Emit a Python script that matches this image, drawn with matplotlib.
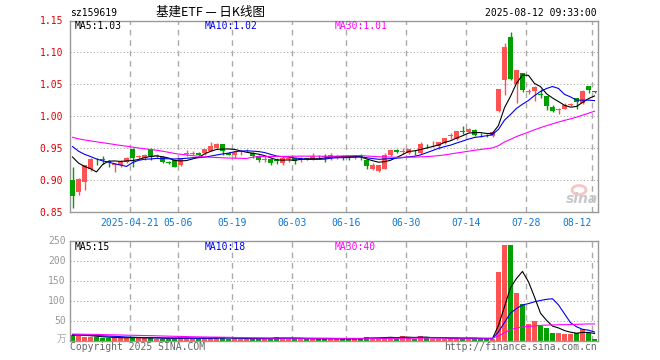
import numpy as np
import pandas as pd
import matplotlib
matplotlib.use('Agg')
import matplotlib.pyplot as plt
from matplotlib.patches import Ellipse

# 日K数据 2025-04-07 ~ 2025-08-12 (88个交易日)
opens = [0.900, 0.882, 0.897, 0.917, 0.932, 0.933, 0.930, 0.924, 0.924, 0.928,
         0.949, 0.936, 0.934, 0.948, 0.938, 0.936, 0.928, 0.931, 0.923, 0.941,
         0.941, 0.943, 0.942, 0.946, 0.950, 0.957, 0.943, 0.940, 0.942, 0.945,
         0.943, 0.938, 0.932, 0.933, 0.931, 0.926, 0.933, 0.934, 0.932, 0.934,
         0.933, 0.935, 0.937, 0.934, 0.934, 0.938, 0.936, 0.935, 0.937, 0.932,
         0.918, 0.915, 0.918, 0.939, 0.947, 0.944, 0.942, 0.946, 0.942, 0.957,
         0.956, 0.954, 0.958, 0.969, 0.964, 0.976, 0.976, 0.979, 0.971, 0.971,
         0.969, 1.009, 1.057, 1.124, 1.050, 1.068, 1.038, 1.040, 1.035, 1.031,
         1.015, 1.010, 1.012, 1.018, 1.028, 1.020, 1.048, 1.039]
closes = [0.875, 0.902, 0.923, 0.933, 0.931, 0.932, 0.929, 0.925, 0.929, 0.935,
          0.935, 0.937, 0.940, 0.938, 0.939, 0.929, 0.927, 0.921, 0.934, 0.942,
          0.942, 0.939, 0.948, 0.954, 0.957, 0.945, 0.940, 0.944, 0.943, 0.946,
          0.938, 0.932, 0.933, 0.926, 0.930, 0.935, 0.934, 0.930, 0.933, 0.933,
          0.937, 0.934, 0.936, 0.940, 0.938, 0.937, 0.935, 0.936, 0.936, 0.922,
          0.923, 0.923, 0.940, 0.947, 0.944, 0.945, 0.948, 0.945, 0.957, 0.956,
          0.957, 0.959, 0.966, 0.970, 0.977, 0.975, 0.980, 0.970, 0.970, 0.970,
          0.976, 1.042, 1.109, 1.059, 1.072, 1.041, 1.039, 1.046, 1.034, 1.016,
          1.008, 1.011, 1.017, 1.019, 1.022, 1.039, 1.041, 1.038]
highs = [0.920, 0.904, 0.924, 0.935, 0.935, 0.938, 0.932, 0.927, 0.931, 0.936,
         0.950, 0.940, 0.941, 0.950, 0.941, 0.937, 0.930, 0.932, 0.935, 0.947,
         0.945, 0.944, 0.949, 0.959, 0.958, 0.957, 0.944, 0.944, 0.946, 0.948,
         0.944, 0.939, 0.937, 0.934, 0.934, 0.937, 0.937, 0.935, 0.936, 0.935,
         0.942, 0.939, 0.941, 0.942, 0.939, 0.940, 0.940, 0.937, 0.941, 0.933,
         0.926, 0.923, 0.943, 0.947, 0.948, 0.950, 0.948, 0.947, 0.960, 0.957,
         0.961, 0.960, 0.966, 0.974, 0.977, 0.984, 0.981, 0.980, 0.974, 0.972,
         0.977, 1.043, 1.114, 1.132, 1.072, 1.068, 1.043, 1.048, 1.042, 1.031,
         1.017, 1.013, 1.020, 1.021, 1.028, 1.041, 1.048, 1.040]
lows = [0.856, 0.877, 0.884, 0.914, 0.923, 0.925, 0.920, 0.913, 0.920, 0.926,
        0.921, 0.933, 0.932, 0.932, 0.935, 0.927, 0.925, 0.920, 0.922, 0.937,
        0.939, 0.937, 0.940, 0.945, 0.948, 0.940, 0.939, 0.934, 0.940, 0.944,
        0.935, 0.928, 0.928, 0.923, 0.925, 0.924, 0.928, 0.925, 0.928, 0.931,
        0.932, 0.933, 0.928, 0.932, 0.933, 0.932, 0.931, 0.933, 0.932, 0.917,
        0.916, 0.913, 0.917, 0.938, 0.942, 0.941, 0.941, 0.939, 0.941, 0.951,
        0.952, 0.949, 0.957, 0.965, 0.963, 0.972, 0.975, 0.969, 0.968, 0.968,
        0.968, 1.007, 1.033, 1.057, 1.021, 1.038, 1.035, 1.024, 1.028, 1.010,
        1.007, 1.004, 1.011, 1.016, 1.012, 1.019, 1.036, 1.037]
# 成交量 (万)
volumes = [14, 12, 10, 10, 8, 7, 7, 8, 6, 6,
           9, 6, 6, 7, 5, 5, 5, 6, 7, 6,
           5, 5, 7, 7, 9, 6, 5, 6, 4, 4,
           5, 5, 5, 6, 8, 6, 5, 5, 4, 4,
           5, 4, 5, 5, 4, 4, 5, 4, 6, 9,
           7, 6, 8, 10, 5, 12, 6, 5, 12, 6,
           5, 5, 5, 6, 5, 5, 6, 5, 4, 4,
           5, 172, 239, 240, 120, 92, 42, 50, 37, 32,
           19, 19, 17, 17, 19, 29, 19, 4.3]
# 窗口前29个交易日 (用于均线)
pre_close = [0.972, 0.975, 0.978, 0.976, 0.973, 0.970, 0.968, 0.971, 0.974, 0.977,
             0.979, 0.976, 0.974, 0.972, 0.975, 0.978, 0.976, 0.973, 0.971, 0.976,
             0.975, 0.972, 0.968, 0.970, 0.960, 0.950, 0.949, 0.951, 0.956]
pre_vol = [17, 18, 16, 17, 19, 17, 16, 18, 17, 15,
           17, 18, 16, 17, 18, 17, 16, 17, 17, 18,
           14, 15, 13, 14, 14, 13, 14, 15, 14]

tick_idx = [10, 18, 27, 37, 46, 56, 66, 76, 87]
tick_lab = ['2025-04-21', '05-06', '05-19', '06-03', '06-16', '06-30', '07-14', '07-28', '08-12']

W, H = 660, 360
def fx(x): return x / W
def fy(y): return 1 - y / H

RED = '#ff5252'
GREEN = '#00a000'
GRID = '#aaaaaa'
MONO = 'DejaVu Sans Mono'
CJK = ['Noto Sans CJK SC', 'DejaVu Sans']

n = len(closes)
x = np.arange(n)
o = np.array(opens); c = np.array(closes)
hi = np.array(highs); lo = np.array(lows)
vol = np.array(volumes, dtype=float)
up = c >= o
cols = np.where(up, RED, GREEN)

allc = pd.Series(pre_close + closes)
allv = pd.Series(pre_vol + volumes)
k = len(pre_close)
ma = {m: allc.rolling(m).mean().iloc[k:].values for m in (5, 10, 30)}
mav = {m: allv.rolling(m).mean().iloc[k:].values for m in (5, 10, 30)}
ma_col = {5: 'black', 10: '#0000ee', 30: '#ff00ff'}

fig = plt.figure(figsize=(6.6, 3.6), dpi=100)
ax = fig.add_axes([fx(70), fy(212), fx(598) - fx(70), fy(20.5) - fy(212)])
axv = fig.add_axes([fx(70), fy(340.5), fx(598) - fx(70), fy(240.5) - fy(340.5)])

xl = (-0.4167, n - 0.4167)
for a in (ax, axv):
    a.set_xlim(*xl)
    for s in a.spines.values():
        s.set_color('#999999')
        s.set_linewidth(1)
    for i in tick_idx:
        a.axvline(i - 0.4167, color=GRID, lw=1, ls=(0, (4, 3.5)), zorder=0)

# K线
w = 0.83
ax.vlines(x, lo, hi, colors=cols, lw=1, zorder=2)
body_lo = np.minimum(o, c)
body_h = np.maximum(np.abs(c - o), 0.0012)
ax.bar(x, body_h, bottom=body_lo, width=w, color=cols, lw=0, zorder=3)
for m in (5, 10, 30):
    ax.plot(x, ma[m], color=ma_col[m], lw=0.8, zorder=4)

ax.set_ylim(0.85, 1.15)
yt = [0.85, 0.90, 0.95, 1.00, 1.05, 1.10, 1.15]
for v in yt[1:-1]:
    ax.axhline(v, color=GRID, lw=0.8, ls=(0, (1, 2)), zorder=0)
ax.set_yticks(yt)
ax.set_yticklabels(['%.2f' % v for v in yt], family=MONO, fontsize=7, color='#e00000')
ax.tick_params(axis='y', length=0, pad=5)
ax.set_xticks([i - 0.4167 for i in tick_idx])
ax.set_xticklabels(tick_lab, family=MONO, fontsize=7, color='#1177cc')
ax.tick_params(axis='x', length=0, pad=4)
ax.get_xticklabels()[-1].set_ha('right')

# 成交量
axv.bar(x, vol, width=w, color=cols, lw=0, zorder=2)
for m in (5, 10, 30):
    axv.plot(x, mav[m], color=ma_col[m], lw=0.8, zorder=4)
axv.set_ylim(0, 250)
vt = [50, 100, 150, 200, 250]
for v in vt[:-1]:
    axv.axhline(v, color=GRID, lw=0.8, ls=(0, (1, 2)), zorder=0)
axv.set_yticks(vt)
axv.set_yticklabels([str(v) for v in vt], family=MONO, fontsize=7, color='#999999')
axv.tick_params(axis='y', length=0, pad=3)
axv.set_xticks([])

# 文字
fig.text(fx(70), fy(12.5), 'sz159619', family=MONO, fontsize=7, va='center', ha='left')
fig.text(fx(210), fy(12.5), '基建ETF — 日K线图', family=CJK, fontsize=9, va='center', ha='center')
fig.text(fx(597), fy(12.5), '2025-08-12 09:33:00', family=MONO, fontsize=7, va='center', ha='right')
fig.text(fx(75), fy(26), 'MA5:1.03', family=MONO, fontsize=7, va='center', color='black')
fig.text(fx(205), fy(26), 'MA10:1.02', family=MONO, fontsize=7, va='center', color='#0000ee')
fig.text(fx(335), fy(26), 'MA30:1.01', family=MONO, fontsize=7, va='center', color='#ff00ff')
fig.text(fx(75), fy(246.5), 'MA5:15', family=MONO, fontsize=7, va='center', color='black')
fig.text(fx(205), fy(246.5), 'MA10:18', family=MONO, fontsize=7, va='center', color='#0000ee')
fig.text(fx(335), fy(246.5), 'MA30:40', family=MONO, fontsize=7, va='center', color='#ff00ff')
fig.text(fx(66), fy(339), '万', family=CJK, fontsize=7, va='center', ha='right', color='#aaaaaa')
fig.text(fx(70), fy(346.5), 'Copyright 2025 SINA.COM', family=MONO, fontsize=7, va='center', color='#666666')
fig.text(fx(597), fy(346.5), 'http://finance.sina.com.cn', family=MONO, fontsize=7, va='center', ha='right', color='#666666')

# 水印
fig.patches.append(Ellipse((fx(579), fy(190)), 14 / W, 9 / H, transform=fig.transFigure,
                           fill=False, ec='#f2b8b8', lw=2, alpha=0.8))
fig.text(fx(582), fy(199), 'sina', family='DejaVu Sans', fontsize=10, fontweight='bold',
         style='italic', va='center', ha='center', color='#c8c8c8')

fig.savefig('out.png', dpi=100, facecolor='white')
